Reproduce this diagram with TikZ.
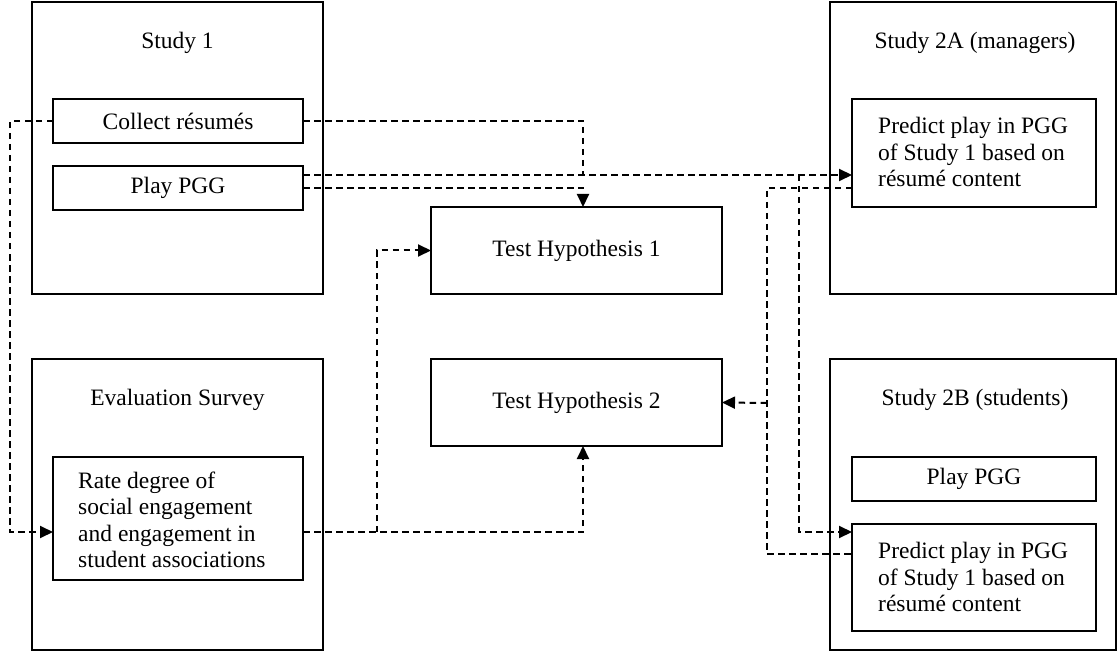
\documentclass[tikz,border=0pt]{standalone}
\usepackage{fontspec}
\setmainfont{Liberation Serif}
\usetikzlibrary{arrows.meta}
\begin{document}
\begin{tikzpicture}[x=1pt,y=-1pt,
  outerbox/.style={draw, line width=2.4pt, inner sep=0pt, outer sep=0pt},
  innerbox/.style={draw, line width=1.6pt, inner sep=0pt, outer sep=0pt},
  ltext/.style={anchor=west, align=left, inner sep=0pt},
  title/.style={inner sep=0pt},
  dl/.style={line width=2pt, dash pattern=on 6.5pt off 4.5pt},
  arr/.style={dl, -{Triangle[length=13pt,width=12pt]}},
  every node/.style={font=\fontsize{23.5}{26.5}\selectfont}
]
\useasboundingbox (0,0) rectangle (1118,652);
% outer boxes
\node[outerbox, minimum width=291, minimum height=292] (s1) at (177.5,148) {};
\node[outerbox, minimum width=291, minimum height=291] (ev) at (177.5,504.5) {};
\node[outerbox, minimum width=286, minimum height=292] (s2a) at (973,148) {};
\node[outerbox, minimum width=286, minimum height=291] (s2b) at (973,504.5) {};
\node[outerbox, minimum width=291, minimum height=87] (th1) at (576.5,250.5) {Test Hypothesis 1};
\node[outerbox, minimum width=291, minimum height=87] (th2) at (576.5,402.5) {Test Hypothesis 2};
% titles
\node[title] (t1) at (177.5,43) {Study 1};
\node[title] (tev) at (177.5,400) {Evaluation Survey};
\node[title] (t2a) at (975,43) {Study 2A (managers)};
\node[title] (t2b) at (975,400) {Study 2B (students)};
% inner boxes
\node[innerbox, minimum width=250, minimum height=44] (cr) at (178,121) {Collect résumés};
\node[innerbox, minimum width=250, minimum height=44] (pp) at (178,188) {Play PGG};
\node[innerbox, minimum width=250, minimum height=123] (rate) at (178,518.5) {};
\node[ltext] (ratet) at (78,520)
  {Rate degree of\\social engagement\\and engagement in\\student associations};
\node[innerbox, minimum width=244, minimum height=108] (pa) at (974,153) {};
\node[ltext] (pat) at (878,152)
  {Predict play in PGG\\of Study 1 based on\\résumé content};
\node[innerbox, minimum width=244, minimum height=44] (pb1) at (974,479) {Play PGG};
\node[innerbox, minimum width=244, minimum height=107] (pb) at (974,577.5) {};
\node[ltext] (pbt) at (878,577)
  {Predict play in PGG\\of Study 1 based on\\résumé content};
% junction coordinates
\coordinate (j1) at (583,175);
\coordinate (j2) at (799,175);
\coordinate (j3) at (767,403);
\coordinate (j4) at (377,532);
\coordinate (l1) at (10,121);
\coordinate (ya) at (0,532);
\coordinate (yb) at (0,554);
\coordinate (yc) at (0,188);
% connectors
\draw[dl] (cr.east) -| (j1);
\draw[arr] (pp.east |- j1) -- (pa.west |- j1);
\draw[arr] (pp.east) -| (th1.north -| j1);
\draw[arr] (j2) |- (pb.west |- ya);
\draw[dl] (pa.west |- yc) -| (j3) |- (pb.west |- yb);
\draw[arr] (j3) -- (th2.east);
\draw[arr] (cr.west) -- (l1) |- (rate.west |- ya);
\draw[arr] (rate.east |- ya) -| (th2.south -| j1);
\draw[arr] (j4) |- (th1.west);
\end{tikzpicture}
\end{document}
